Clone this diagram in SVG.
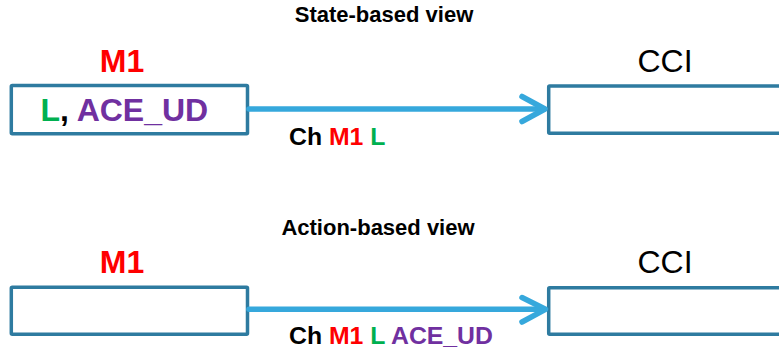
<svg xmlns="http://www.w3.org/2000/svg" width="779" height="353" viewBox="0 0 779 353">
  <style>
    .box { fill: #ffffff; stroke: #2E7BA0; stroke-width: 3.5; }
    .conn { stroke: #36A8DC; stroke-width: 5.5; fill: none; stroke-linecap: round; stroke-linejoin: round; }
    .title { font-family: "Liberation Sans", Arial, sans-serif; font-weight: bold; font-size: 22px; fill: #000; }
    .name { font-family: "Liberation Sans", Arial, sans-serif; font-size: 32px; }
    .lbl { font-family: "Liberation Sans", Arial, sans-serif; font-weight: bold; font-size: 24.8px; }
    .red { fill: #FF0000; }
    .green { fill: #00B050; }
    .purple { fill: #7030A0; }
    .black { fill: #000000; }
  </style>
  <rect width="779" height="353" fill="#ffffff"/>

  <text class="title" x="384" y="21.5" text-anchor="middle">State-based view</text>
  <text class="title" x="378" y="235" text-anchor="middle">Action-based view</text>

  <g id="m1-state">
    <text class="name red" x="122" y="72.3" text-anchor="middle" font-weight="bold">M1</text>
    <rect class="box" x="11.3" y="85.5" width="236.2" height="48.2" rx="1"/>
    <text class="name" x="40.5" y="121" font-size="32.5" font-weight="bold"><tspan class="green">L</tspan><tspan class="black">, </tspan><tspan class="purple">ACE_UD</tspan></text>
  </g>

  <g id="cci-state">
    <text class="name black" x="665" y="72.3" text-anchor="middle">CCI</text>
    <rect class="box" x="548.7" y="86" width="260" height="47.3" rx="1"/>
  </g>

  <g id="m1-action">
    <text class="name red" x="122" y="273" text-anchor="middle" font-weight="bold">M1</text>
    <rect class="box" x="11.3" y="287.3" width="236.2" height="46.9" rx="1"/>
  </g>

  <g id="cci-action">
    <text class="name black" x="665" y="272.7" text-anchor="middle">CCI</text>
    <rect class="box" x="548.7" y="287.7" width="260" height="46.5" rx="1"/>
  </g>

  <g id="connectors">
    <line class="conn" x1="249" y1="109" x2="544" y2="109"/>
    <polyline class="conn" points="522,96.5 545,109 522,121.5"/>
    <line class="conn" x1="249" y1="309.3" x2="544" y2="309.3"/>
    <polyline class="conn" points="522,297.5 545.5,309.3 522,322"/>
    <text class="lbl" x="289" y="145"><tspan class="black">Ch </tspan><tspan class="red">M1 </tspan><tspan class="green">L</tspan></text>
    <text class="lbl" x="289" y="344"><tspan class="black">Ch </tspan><tspan class="red">M1 </tspan><tspan class="green">L </tspan><tspan class="purple">ACE_UD</tspan></text>
  </g>
</svg>
